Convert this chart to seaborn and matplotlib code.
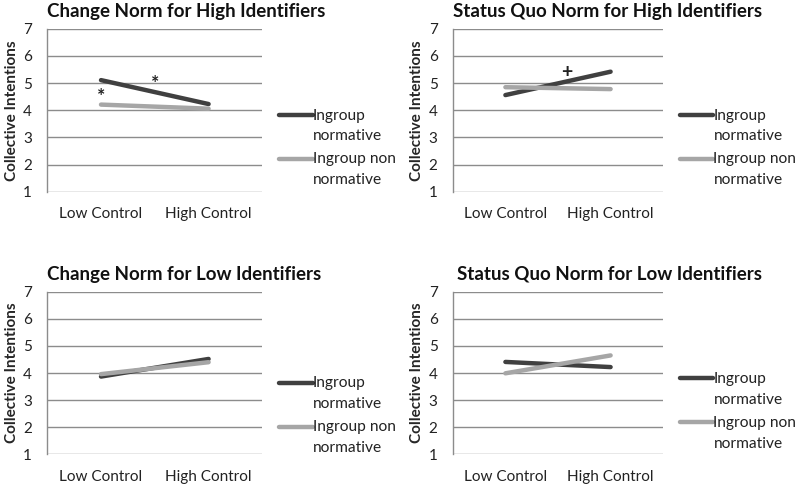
import matplotlib
matplotlib.use("Agg")
import matplotlib.pyplot as plt
import seaborn as sns
import pandas as pd
import numpy as np
from matplotlib.lines import Line2D
from matplotlib.legend_handler import HandlerLine2D

sns.set_style("white")
plt.rcParams['font.family'] = ['Lato', 'DejaVu Sans']

categories = ["Low Control", "High Control"]
series_names = ["Ingroup normative", "Ingroup non normative"]
legend_labels = ["Ingroup\nnormative", "Ingroup non\nnormative"]
titles = ["Change Norm for High Identifiers", "Status Quo Norm for High Identifiers",
          "Change Norm for Low Identifiers", "Status Quo Norm for Low Identifiers"]

normative = [[5.11, 4.23], [4.56, 5.42], [3.87, 4.52], [4.41, 4.22]]
non_normative = [[4.21, 4.06], [4.85, 4.78], [3.96, 4.40], [3.99, 4.65]]

annotations = [[("*", 0.0, 4.5), ("*", 0.5, 5.0)], [("+", 0.58, 5.38)], [], []]

yticks = [1, 2, 3, 4, 5, 6, 7]
colors = ["#404040", "#a6a6a6"]
grid_color = "#8c8c8c"


class UpperLine(HandlerLine2D):
    def create_artists(self, legend, orig_handle, xdescent, ydescent, width,
                       height, fontsize, trans):
        arts = super().create_artists(legend, orig_handle, xdescent, ydescent,
                                      width, height, fontsize, trans)
        for a in arts:
            if isinstance(a, Line2D):
                a.set_ydata(np.asarray(a.get_ydata()) + 0.7 * fontsize)
        return arts


fig = plt.figure(figsize=(8, 4.87), dpi=100)
positions = [
    [0.059, 0.606, 0.269, 0.335],
    [0.566, 0.606, 0.263, 0.335],
    [0.059, 0.067, 0.269, 0.334],
    [0.566, 0.067, 0.263, 0.334],
]
legend_y = [0.27, 0.27, 0.238, 0.265]
title_x = [0.0, 0.0, 0.0, 0.02]

for i in range(4):
    ax = fig.add_axes(positions[i])
    df = pd.DataFrame({
        "control": categories * 2,
        "value": normative[i] + non_normative[i],
        "series": [series_names[0]] * 2 + [series_names[1]] * 2,
    })
    df["x"] = [0, 1, 0, 1]
    sns.lineplot(data=df, x="x", y="value", hue="series", palette=colors,
                 hue_order=series_names, linewidth=3.2, legend=False, ax=ax,
                 sort=False, zorder=3)
    ax.set_xlim(-0.5, 1.5)
    ax.set_ylim(1, 7)
    ax.set_yticks(yticks)
    ax.set_yticklabels([str(t) for t in yticks], fontsize=11, color="#222222")
    ax.set_xticks([0, 1])
    ax.set_xticklabels(categories, fontsize=11, color="#222222")
    ax.tick_params(axis="x", length=0, pad=11)
    ax.tick_params(axis="y", length=0, pad=11)
    for yv in yticks:
        ax.axhline(yv, color=grid_color, linewidth=1.0, zorder=1)
    for s in ["top", "right", "bottom"]:
        ax.spines[s].set_visible(False)
    ax.spines["left"].set_color(grid_color)
    ax.spines["left"].set_linewidth(1.0)
    ax.set_xlabel("")
    ax.set_ylabel("Collective Intentions", fontsize=11, fontweight=700, labelpad=3)
    ax.text(title_x[i], 1.055, titles[i], transform=ax.transAxes, ha="left",
            va="bottom", fontsize=13.5, fontweight=700, color="#111111")
    for (txt, xx, yy) in annotations[i]:
        ax.text(xx, yy, txt, ha="center", va="center", fontsize=14,
                fontweight=700, color="#222222")
    handles = [Line2D([0], [0], color=c, lw=3.2) for c in colors]
    leg = ax.legend(handles, legend_labels, loc="center left",
                    bbox_to_anchor=(1.05, legend_y[i]),
                    frameon=False, fontsize=11.2, handlelength=2.15, handletextpad=0.0,
                    labelspacing=0.6, borderaxespad=0,
                    handler_map={Line2D: UpperLine()})
    for t in leg.get_texts():
        t.set_linespacing(1.6)
        t.set_color("#222222")

fig.savefig("out.png", dpi=100)
